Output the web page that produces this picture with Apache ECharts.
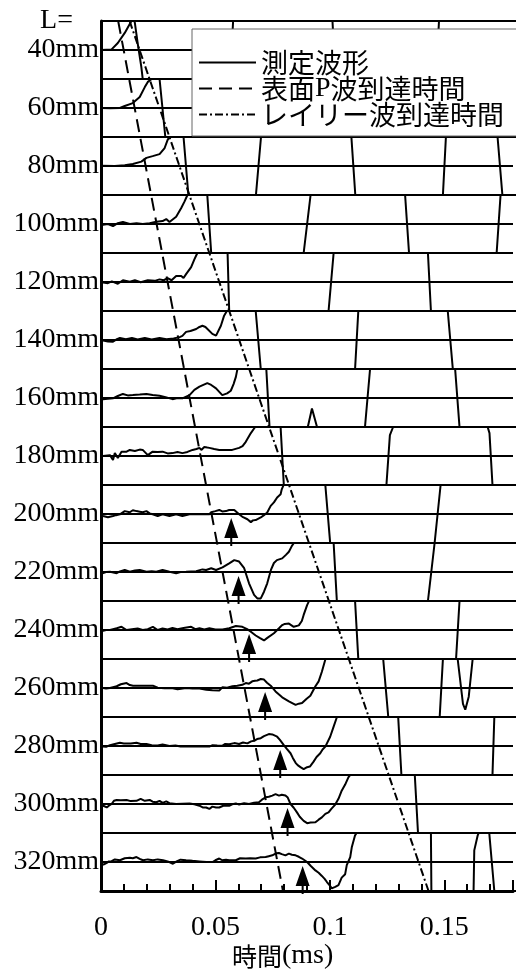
<!DOCTYPE html>
<html>
<head>
<meta charset="utf-8">
<script src="https://cdn.jsdelivr.net/npm/echarts@6/dist/echarts.min.js"></script>
<style>
  html, body { margin: 0; padding: 0; background: #fff; }
  #main { width: 516px; height: 972px; }
</style>
</head>
<body>
<div id="main"></div>
<script>
// distance of each trace (mm)
const distances = [40, 60, 80, 100, 120, 140, 160, 180, 200, 220, 240, 260, 280, 300, 320];

// waveforms: [time(ms), amplitude], amplitude 1 = band edge
const wave40 = [[0,0],[0.0003,0],[0.0046,0.02],[0.0073,0.24],[0.0103,0.59],[0.0132,1.0],[0.0140,1.15],[0.0147,0.93],[0.0159,0.24],[0.0175,-0.59],[0.0181,-1],[0.0560,-1],[0.0573,1],[0.1004,1],[0.1017,-1],[0.1453,-1],[0.1466,1],[0.18,1]];
const wave60 = [[0,0],[0.0039,-0.01],[0.0082,0],[0.0103,0.07],[0.0138,0.17],[0.0168,0.38],[0.0190,0.72],[0.0203,0.9],[0.0220,1.0],[0.0237,1.1],[0.0254,1],[0.0259,1],[0.0279,-1],[0.0569,-1],[0.0582,1],[0.1034,1],[0.1052,-1],[0.1431,-1],[0.1448,1],[0.1724,1],[0.1741,-1],[0.18,-1]];
const wave80 = [[0,0.01],[0.006,0],[0.0103,0.03],[0.0138,0.07],[0.0175,0.15],[0.0197,0.28],[0.0224,0.34],[0.0254,0.41],[0.0276,0.62],[0.0289,0.9],[0.0297,1.0],[0.0328,1.2],[0.0358,1],[0.0379,-1],[0.0672,-1],[0.0694,1],[0.1086,1],[0.1103,-1],[0.1483,-1],[0.1496,1],[0.1720,1],[0.1741,-1],[0.18,-1]];
const wave100 = [[0,-0.02],[0.0009,-0.03],[0.003,0],[0.0052,-0.07],[0.0073,0.03],[0.0095,0.07],[0.0125,0],[0.0154,0.03],[0.0181,0],[0.0211,0.03],[0.0240,0.08],[0.0267,0.1],[0.0283,0.17],[0.0297,0.07],[0.0326,0.25],[0.0348,0.55],[0.0362,0.77],[0.0375,1],[0.040,1.2],[0.0461,1],[0.0478,-1],[0.0879,-1],[0.0909,1],[0.1319,1],[0.1336,-1],[0.1716,-1],[0.1733,1],[0.18,1]];
const wave120 = [[0,-0.02],[0.0009,-0.02],[0.003,-0.04],[0.0047,0.02],[0.0073,-0.06],[0.0095,0.06],[0.0125,0.01],[0.0147,0.06],[0.0172,-0.01],[0.0203,0.06],[0.0233,0.04],[0.0254,0.09],[0.0272,0.06],[0.0289,0.13],[0.0306,0.06],[0.0326,0.21],[0.0348,0.21],[0.0358,0.14],[0.0369,0.27],[0.0391,0.51],[0.0405,0.78],[0.0418,1.0],[0.046,1.3],[0.0549,1],[0.0556,-1],[0.0987,-1],[0.1009,1],[0.1418,1],[0.1431,-1],[0.18,-1]];
const wave140 = [[0,-0.02],[0.0009,-0.02],[0.003,-0.05],[0.0052,-0.06],[0.0069,0.03],[0.0082,0.07],[0.0108,0.03],[0.0134,0.07],[0.0159,0.02],[0.019,0.07],[0.022,0.02],[0.0254,0.07],[0.0284,0.03],[0.0315,0.05],[0.0341,0.1],[0.0353,0.14],[0.0369,0.28],[0.0388,0.31],[0.0413,0.38],[0.0427,0.45],[0.044,0.49],[0.0453,0.45],[0.0461,0.45],[0.0483,0.21],[0.0499,0.15],[0.052,0.49],[0.0534,0.84],[0.0546,1],[0.0555,1.1],[0.0671,1],[0.0693,-1],[0.1102,-1],[0.1116,1],[0.1504,1],[0.1526,-1],[0.18,-1]];
const wave160 = [[0,-0.03],[0.0009,-0.04],[0.003,-0.03],[0.0052,-0.01],[0.0073,0.07],[0.0095,0.14],[0.0116,0.09],[0.0138,0.1],[0.0168,0.12],[0.0197,0.14],[0.0224,0.1],[0.0254,0.08],[0.028,0.03],[0.031,-0.04],[0.0332,0],[0.0353,-0.01],[0.0384,0.1],[0.0405,0.28],[0.0427,0.39],[0.0461,0.51],[0.0478,0.45],[0.0499,0.33],[0.0513,0.21],[0.0526,0.1],[0.0547,0.16],[0.0563,0.25],[0.0575,0.48],[0.0585,0.73],[0.0591,0.97],[0.061,1.2],[0.0717,1],[0.0731,-1],[0.0897,-1],[0.0915,-0.36],[0.0937,-1],[0.1145,-1],[0.1167,1],[0.1536,1],[0.1555,-1],[0.18,-1]];
const wave180 = [[0,0],[0.0009,0],[0.0039,0.03],[0.0052,-0.14],[0.006,0.1],[0.0073,-0.07],[0.0089,0.15],[0.0111,0.15],[0.0125,0.21],[0.0147,0.17],[0.0168,0.22],[0.0181,0.21],[0.0203,0.03],[0.0224,0.15],[0.0246,0.14],[0.0267,0.15],[0.0289,0.09],[0.031,0.1],[0.0332,0.14],[0.0353,0.1],[0.0375,0.14],[0.0397,0.21],[0.0414,0.24],[0.0427,0.28],[0.0435,0.21],[0.0448,0.31],[0.0461,0.29],[0.047,0.28],[0.0491,0.24],[0.0513,0.21],[0.0539,0.21],[0.0569,0.21],[0.0599,0.28],[0.0614,0.34],[0.0628,0.49],[0.065,0.79],[0.0664,0.95],[0.0671,1],[0.07,1.3],[0.0779,1],[0.0793,-1],[0.1238,-1],[0.1253,0.72],[0.1267,1],[0.1677,1],[0.1685,0.79],[0.1698,-1],[0.18,-1]];
const wave200 = [[0,-0.05],[0.0009,-0.07],[0.003,-0.11],[0.0052,-0.07],[0.0065,-0.04],[0.0082,-0.01],[0.0103,0.1],[0.0125,0.06],[0.0138,0.13],[0.0154,0.1],[0.0168,0.08],[0.0181,0.06],[0.0197,0.1],[0.0211,0.02],[0.0224,-0.01],[0.0246,-0.07],[0.0267,-0.01],[0.0297,-0.07],[0.0326,-0.01],[0.0353,-0.07],[0.0384,-0.01],[0.0427,-0.01],[0.047,-0.01],[0.0478,0.06],[0.0496,0.1],[0.0513,0.14],[0.0526,0.09],[0.0542,0.1],[0.0556,0.14],[0.0578,0.14],[0.0599,-0.01],[0.0616,-0.11],[0.0635,-0.18],[0.065,-0.28],[0.0659,-0.22],[0.0671,-0.21],[0.0693,-0.12],[0.0707,-0.04],[0.0721,0.05],[0.0736,0.28],[0.075,0.4],[0.0764,0.57],[0.0779,0.68],[0.0784,0.85],[0.0793,1.02],[0.082,1.3],[0.0973,1],[0.0994,-1],[0.1447,-1],[0.1473,1],[0.18,1]];
const wave220 = [[0,-0.03],[0.0009,-0.04],[0.0022,0],[0.0039,0.01],[0.0068,-0.04],[0.0082,0.02],[0.0103,0.07],[0.0125,0.01],[0.0147,0.05],[0.0168,0.07],[0.0197,0.01],[0.022,0.03],[0.024,0.01],[0.0267,0.07],[0.0297,0.01],[0.0326,-0.04],[0.0345,0],[0.0369,0.01],[0.0413,0.03],[0.044,0.09],[0.0456,0.07],[0.0478,0.13],[0.0499,0.07],[0.0527,0.16],[0.0556,0.3],[0.0578,0.41],[0.0599,0.36],[0.0621,0.13],[0.0642,-0.39],[0.0664,-0.79],[0.0678,-0.91],[0.0693,-0.91],[0.0707,-0.68],[0.0721,-0.39],[0.0737,0.07],[0.075,0.31],[0.0763,0.41],[0.0786,0.47],[0.0802,0.59],[0.0815,0.7],[0.0828,0.9],[0.0836,0.99],[0.087,1.2],[0.1009,1],[0.1023,-1],[0.1418,-1],[0.1447,1],[0.18,1]];
const wave240 = [[0,-0.02],[0.0009,-0.03],[0.0022,0],[0.0039,0],[0.0052,0.03],[0.0068,0.06],[0.0089,0.11],[0.0111,0],[0.0134,0.03],[0.0159,0.05],[0.0181,0],[0.0203,0.03],[0.0225,0.11],[0.0246,0],[0.0267,0.05],[0.0289,0.02],[0.031,0.07],[0.0332,0.03],[0.0358,0.07],[0.0391,0.11],[0.0409,0.03],[0.0427,0.06],[0.0448,0.02],[0.047,0.06],[0.0496,0.02],[0.0527,0.02],[0.0556,0.06],[0.0585,0.14],[0.0613,0.11],[0.0634,0.03],[0.065,-0.06],[0.0671,-0.19],[0.069,-0.28],[0.0707,-0.36],[0.072,-0.28],[0.0728,-0.26],[0.075,-0.11],[0.0772,0.06],[0.0786,0.17],[0.0797,0.21],[0.0815,0.22],[0.0836,0.11],[0.0858,0.16],[0.0871,0.31],[0.0879,0.52],[0.0894,0.86],[0.0901,0.98],[0.092,1.2],[0.1102,1],[0.1116,-1],[0.1540,-1],[0.1555,1],[0.18,1]];
const wave260 = [[0,0],[0.0009,0],[0.0022,-0.02],[0.0039,0],[0.0052,0.03],[0.0068,0.06],[0.0086,0.13],[0.0111,0.17],[0.0125,0.1],[0.0139,0.08],[0.0168,0.08],[0.0198,0.08],[0.0225,0.08],[0.0246,0.01],[0.0276,-0.01],[0.0306,0],[0.0332,-0.04],[0.0369,0],[0.0397,-0.02],[0.0427,-0.02],[0.0457,-0.06],[0.0483,-0.08],[0.0513,-0.09],[0.0527,0.03],[0.0547,0.01],[0.057,0.06],[0.0591,0.08],[0.0613,0.11],[0.0628,0.17],[0.0642,0.15],[0.0656,0.23],[0.0668,0.25],[0.0678,0.26],[0.0693,0.31],[0.0707,0.29],[0.072,0.18],[0.0736,0.08],[0.0757,-0.12],[0.0786,-0.32],[0.0815,-0.46],[0.0844,-0.58],[0.0858,-0.54],[0.0872,-0.52],[0.0892,-0.37],[0.0908,-0.27],[0.093,0.06],[0.0944,0.23],[0.0958,0.56],[0.0973,0.98],[0.1,1.2],[0.1224,1],[0.1246,-1],[0.1469,-1],[0.1483,1],[0.1547,1],[0.1570,-0.55],[0.1580,-0.75],[0.1595,-0.3],[0.1612,1],[0.18,1]];
const wave280 = [[0,-0.01],[0.0009,-0.02],[0.0022,-0.03],[0.0039,0.03],[0.006,0.07],[0.0082,0.11],[0.0099,0.09],[0.0111,0.09],[0.0129,0.09],[0.0154,0.11],[0.0172,0.07],[0.0197,0.07],[0.022,0.03],[0.0246,0.02],[0.0267,0.05],[0.0297,0],[0.0323,0.02],[0.0345,-0.02],[0.0369,-0.02],[0.0397,-0.02],[0.0427,-0.02],[0.0453,-0.02],[0.047,-0.02],[0.0484,0.03],[0.0504,0.02],[0.0527,0.01],[0.0539,0.07],[0.0556,0.06],[0.0578,0.1],[0.0599,0.07],[0.0616,0.12],[0.0635,0.09],[0.0651,0.16],[0.0664,0.18],[0.0677,0.24],[0.0693,0.27],[0.0707,0.34],[0.0728,0.41],[0.0743,0.4],[0.0764,0.32],[0.0776,0.21],[0.0793,0.03],[0.0806,-0.1],[0.0822,-0.25],[0.0832,-0.41],[0.0844,-0.58],[0.0853,-0.66],[0.0865,-0.73],[0.0879,-0.8],[0.0894,-0.73],[0.0906,-0.71],[0.0922,-0.54],[0.0935,-0.38],[0.0951,-0.25],[0.0961,-0.12],[0.0973,-0.02],[0.0994,0.32],[0.1009,0.67],[0.1023,0.99],[0.105,1.3],[0.1289,1],[0.1303,-1],[0.1698,-1],[0.1706,1],[0.18,1]];
const wave300 = [[0,-0.06],[0.001,-0.06],[0.0025,-0.12],[0.0034,-0.06],[0.0046,0],[0.0056,0.11],[0.0068,0.14],[0.0086,0.13],[0.0111,0.14],[0.0129,0.1],[0.0154,0.11],[0.0172,0.18],[0.019,0.11],[0.0211,0.14],[0.0224,0.08],[0.024,0.06],[0.0254,0.11],[0.0267,0.04],[0.0283,0.09],[0.0297,0.03],[0.0326,0],[0.0353,0.01],[0.0384,0.02],[0.0405,-0.01],[0.0427,-0.06],[0.0441,-0.12],[0.0456,-0.12],[0.047,-0.17],[0.0483,-0.09],[0.0499,-0.12],[0.0513,-0.12],[0.053,-0.06],[0.0556,-0.06],[0.0569,-0.01],[0.0585,0.02],[0.0599,-0.02],[0.0621,0.03],[0.0642,0],[0.0664,0.04],[0.0685,0.06],[0.0698,0.15],[0.0714,0.23],[0.0728,0.25],[0.0743,0.29],[0.0757,0.34],[0.0772,0.29],[0.0784,0.32],[0.08,0.29],[0.081,0.22],[0.0822,0],[0.0836,-0.13],[0.085,-0.29],[0.0862,-0.44],[0.0879,-0.58],[0.0894,-0.66],[0.0909,-0.64],[0.093,-0.63],[0.0944,-0.54],[0.0958,-0.46],[0.0973,-0.34],[0.0987,-0.29],[0.1,-0.16],[0.1016,-0.02],[0.103,0.18],[0.1044,0.46],[0.1059,0.67],[0.1073,0.92],[0.1082,1.01],[0.11,1.3],[0.1361,1],[0.1375,-1],[0.18,-1]];
const wave320 = [[0,-0.11],[0.0003,-0.11],[0.0013,-0.08],[0.0025,-0.03],[0.0034,0.02],[0.0046,0.03],[0.006,0.09],[0.0082,0.06],[0.0103,0.13],[0.0125,0.15],[0.0138,0.13],[0.0154,0.17],[0.0168,0.11],[0.0182,0.06],[0.0203,0.09],[0.0225,0.06],[0.0246,0.09],[0.0269,0.06],[0.0289,0.02],[0.0312,-0.06],[0.0328,0.02],[0.0345,0.08],[0.0369,0.06],[0.0397,0.04],[0.0427,0.02],[0.0457,0],[0.0484,0],[0.0496,0.06],[0.0513,0.12],[0.0526,0.06],[0.0542,0.08],[0.0556,0.06],[0.057,0.06],[0.0585,0.06],[0.0603,0.13],[0.0628,0.12],[0.0647,0.13],[0.0671,0.12],[0.069,0.16],[0.0714,0.17],[0.0728,0.2],[0.0743,0.23],[0.0759,0.3],[0.0772,0.31],[0.0784,0.27],[0.08,0.23],[0.0815,0.29],[0.0828,0.25],[0.0844,0.23],[0.0858,0.18],[0.0872,0.12],[0.0879,0.06],[0.0894,0],[0.0909,-0.13],[0.093,-0.29],[0.0944,-0.37],[0.0958,-0.48],[0.097,-0.58],[0.098,-0.69],[0.0991,-0.8],[0.1001,-0.91],[0.1016,-0.86],[0.103,-0.8],[0.1044,-0.54],[0.1059,-0.42],[0.1066,-0.11],[0.1081,0.17],[0.1088,0.52],[0.1102,0.92],[0.1108,0.99],[0.113,1.3],[0.1431,1],[0.1433,-1],[0.1616,-1],[0.1619,0.4],[0.1634,0.92],[0.1638,1],[0.1684,1],[0.1706,-1],[0.18,-1]];

const waves = [wave40, wave60, wave80, wave100, wave120, wave140, wave160, wave180,
               wave200, wave220, wave240, wave260, wave280, wave300, wave320];

// arrival-time lines: [time(ms), L(mm)]
const pArrival = [[0.0075, 30], [0.0795, 330]];
const rayleighArrival = [[0.0125, 30], [0.1431, 330]];

// picked arrivals (arrows)
const arrowDist = [200, 220, 240, 260, 280, 300, 320];
const arrowTimes = [0.0569, 0.0601, 0.0647, 0.0717, 0.0783, 0.0815, 0.0881];

const LEFT = 101, RIGHT = -2.6, TOP = 21, BAND = 58;
const serif = 'Liberation Serif';
const cjk = 'Noto Sans CJK JP';

const chart = echarts.init(document.getElementById('main'), null, { renderer: 'canvas' });

const grid = [], xAxis = [], yAxis = [], series = [];
distances.forEach((d, i) => {
  grid.push({ left: LEFT, right: RIGHT, top: TOP + BAND * i, height: BAND });
  xAxis.push({ gridIndex: i, type: 'value', min: 0, max: 0.18, show: false });
  yAxis.push({ gridIndex: i, type: 'value', min: -1, max: 1, show: false });
  series.push({
    name: '測定波形', type: 'line', xAxisIndex: i, yAxisIndex: i,
    data: waves[i], symbol: 'none', clip: true, silent: true,
    lineStyle: { color: '#000', width: 2 }, itemStyle: { color: '#000' }
  });
});

// overlay grid for the axes and arrival lines
const ov = distances.length;
grid.push({ left: LEFT, right: RIGHT, top: TOP, height: BAND * distances.length });
xAxis.push({
  gridIndex: ov, type: 'value', min: 0, max: 0.18, interval: 0.05,
  axisLine: { onZero: false, lineStyle: { color: '#000', width: 3 } },
  axisTick: { inside: true, length: 11, lineStyle: { color: '#000', width: 2 } },
  minorTick: { show: true, splitNumber: 5, length: 7, lineStyle: { color: '#000', width: 2 } },
  splitLine: { show: false },
  axisLabel: {
    margin: 23, color: '#000', fontFamily: serif, fontSize: 28,
    formatter: v => (Math.round(v * 100) % 5 === 0 ? String(v) : '')
  }
});
yAxis.push({
  gridIndex: ov, type: 'value', inverse: true, min: 30, max: 330, interval: 10,
  axisLine: { onZero: false, lineStyle: { color: '#000', width: 3 } },
  axisTick: { show: false },
  splitLine: { show: true, lineStyle: { color: '#000', width: 2 } },
  axisLabel: {
    margin: 2, color: '#000', fontFamily: serif, fontSize: 28,
    formatter: v => (v === 30 ? '{l|L=}' : (v % 20 === 0 ? v + 'mm' : '')),
    rich: { l: { fontFamily: serif, fontSize: 28, color: '#000', padding: [0, 26, 0, 0] } }
  }
});

series.push({
  name: '表面P波到達時間', type: 'line', xAxisIndex: ov, yAxisIndex: ov,
  data: pArrival, symbol: 'none', silent: true, z: 3,
  lineStyle: { color: '#000', width: 2, type: [13, 7] }, itemStyle: { color: '#000' }
});
series.push({
  name: 'レイリー波到達時間', type: 'line', xAxisIndex: ov, yAxisIndex: ov,
  data: rayleighArrival, symbol: 'none', silent: true, z: 3,
  lineStyle: { color: '#000', width: 2, type: [8, 3, 2, 3] }, itemStyle: { color: '#000' }
});
series.push({
  name: 'arrow', type: 'scatter', xAxisIndex: ov, yAxisIndex: ov, clip: false, silent: true, z: 4,
  data: arrowTimes.map((t, i) => [t, arrowDist[i]]),
  symbol: 'path://M7 0 L14 20 L8 20 L8 28 L6 28 L6 20 L0 20 Z',
  symbolSize: [14, 28], symbolOffset: [0, 18],
  itemStyle: { color: '#000', opacity: 1 }
});

const option = {
  backgroundColor: '#fff',
  animation: false,
  title: {
    text: '{a|時間}{b|(ms)}', left: 227, top: 937,
    textStyle: {
      fontWeight: 'normal',
      rich: {
        a: { fontFamily: cjk, fontSize: 25, fontWeight: 'normal', color: '#000' },
        b: { fontFamily: serif, fontSize: 28, fontWeight: 'normal', color: '#000' }
      }
    }
  },
  legend: {
    data: ['測定波形', '表面P波到達時間', 'レイリー波到達時間'],
    orient: 'vertical', left: 192, top: 29,
    padding: [20, 20, 8, 6], itemGap: -1.5,
    itemWidth: 57, itemHeight: 27,
    backgroundColor: '#fff', borderColor: '#666', borderWidth: 1,
    selectedMode: false,
    itemStyle: { opacity: 0, borderWidth: 0 },
    formatter: name => name.replace('P', '{s|P}'),
    textStyle: {
      fontFamily: cjk, fontSize: 27, color: '#000', lineHeight: 27,
      rich: { s: { fontFamily: serif, fontSize: 28, color: '#000', lineHeight: 27 } }
    }
  },
  grid, xAxis, yAxis, series
};

chart.setOption(option);
</script>
</body>
</html>
